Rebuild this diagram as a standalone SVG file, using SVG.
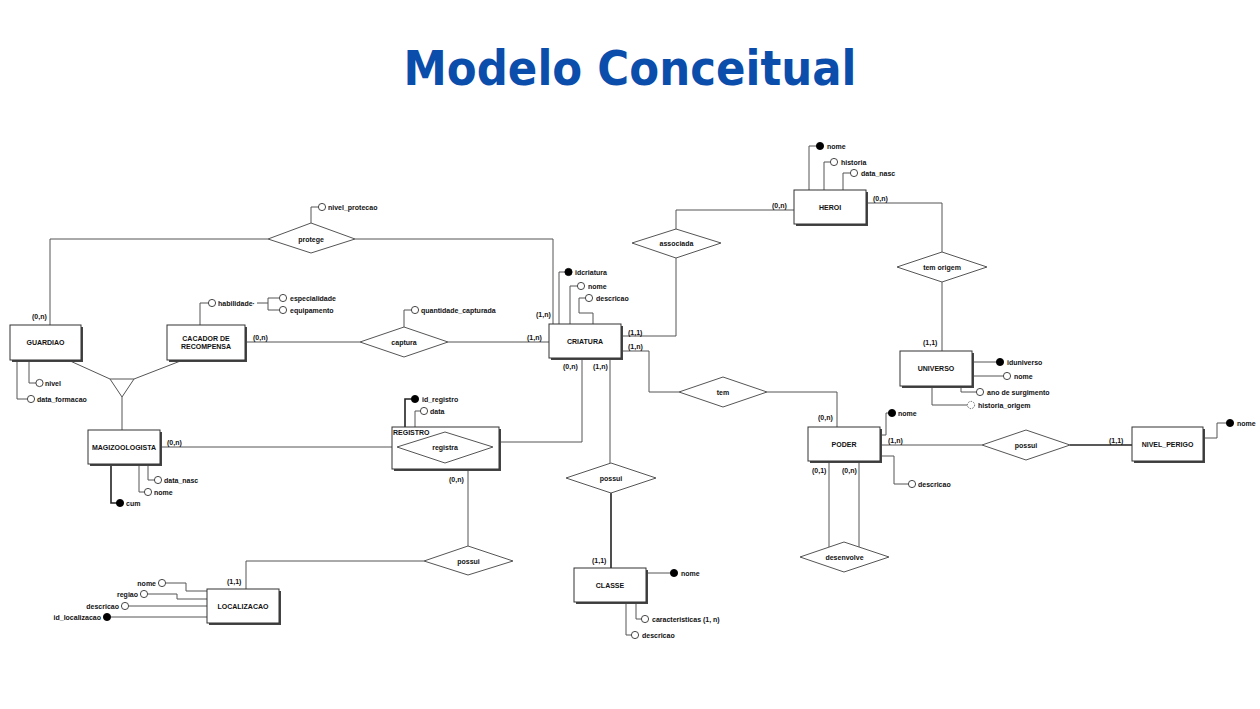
<svg xmlns="http://www.w3.org/2000/svg" width="1260" height="709" viewBox="0 0 1260 709">
<style>
.title{font-family:"DejaVu Sans","Liberation Sans",sans-serif;font-weight:bold;font-size:48px;fill:#0a4dab}
.t{font-family:"Liberation Sans",Arial,sans-serif;font-weight:bold;font-size:7px;fill:#111}
.c{text-anchor:middle}
.r{text-anchor:end}
.ln{fill:none;stroke:#555;stroke-width:1}
.thk{fill:none;stroke:#222;stroke-width:1.6}
.box{fill:#fff;stroke:#333;stroke-width:1}
.sh{fill:#444}
.rel{fill:#fff;stroke:#555;stroke-width:1}
.a{fill:#fff;stroke:#333;stroke-width:0.9}
.k{fill:#000;stroke:#000;stroke-width:0.9}
.d{fill:#fff;stroke:#555;stroke-width:0.9;stroke-dasharray:1.5 1.2}
</style>
<rect width="1260" height="709" fill="#fff"/>
<text class="title" x="630" y="85" text-anchor="middle" textLength="453" lengthAdjust="spacingAndGlyphs">Modelo Conceitual</text>

<g id="connectors">
<path class="ln" d="M50,325 V239 H268"/>
<path class="ln" d="M355,239 H553 V324"/>
<path class="ln" d="M68,360 L110,379"/>
<path class="ln" d="M183,360 L134,379"/>
<path class="ln" d="M122,397 V430"/>
<path class="ln" d="M245,342 H360"/>
<path class="ln" d="M448,342 H549"/>
<path class="ln" d="M621,336 H676 V258"/>
<path class="ln" d="M676,229 V210 H794"/>
<path class="ln" d="M621,351 H649 V392 H679"/>
<path class="ln" d="M767,392 H837 V427"/>
<path class="ln" d="M866,203 H942 V252"/>
<path class="ln" d="M942,282 V351"/>
<path class="ln" d="M880,445 H982"/>
<path class="thk" d="M1070,445 H1132"/>
<path class="ln" d="M829,461 V547"/>
<path class="ln" d="M859,461 V547"/>
<path class="ln" d="M160,447 H397"/>
<path class="ln" d="M477,442 H582 V357"/>
<path class="ln" d="M610,357 V463"/>
<path class="thk" d="M611,493 V568"/>
<path class="ln" d="M468,469 V546"/>
<path class="ln" d="M424,561 H246 V589"/>
<text class="t" x="32" y="318.5">(0,n)</text>
<text class="t" x="536" y="317">(1,n)</text>
<text class="t" x="253" y="339.5">(0,n)</text>
<text class="t" x="527" y="339.5">(1,n)</text>
<text class="t" x="772" y="207.5">(0,n)</text>
<text class="t" x="628" y="334.5">(1,1)</text>
<text class="t" x="628" y="348.5">(1,n)</text>
<text class="t" x="873" y="200.5">(0,n)</text>
<text class="t" x="923" y="344.5">(1,1)</text>
<text class="t" x="818" y="419.5">(0,n)</text>
<text class="t" x="888" y="443">(1,n)</text>
<text class="t" x="1109" y="443">(1,1)</text>
<text class="t" x="812" y="472.5">(0,1)</text>
<text class="t" x="842" y="472.5">(0,n)</text>
<text class="t" x="167" y="445">(0,n)</text>
<text class="t" x="563" y="368.5">(0,n)</text>
<text class="t" x="593" y="368.5">(1,n)</text>
<text class="t" x="449" y="481.5">(0,n)</text>
<text class="t" x="592" y="562.5">(1,1)</text>
<text class="t" x="227" y="583.5">(1,1)</text>
</g>

<g id="guardiao">
<path class="ln" d="M29,360 V383 H36 M17,360 V399 H27"/>
<circle class="a" cx="39.5" cy="383" r="3.6"/>
<circle class="a" cx="31" cy="399" r="3.6"/>
<text class="t" x="45" y="385.5">nivel</text>
<text class="t" x="37" y="401.5">data_formacao</text>
<rect class="sh" x="12" y="327" width="71" height="35"/>
<rect class="box" x="10" y="325" width="71" height="35"/>
<text class="t c" x="45.5" y="345">GUARDIAO</text>
</g>

<g id="cacador">
<path class="ln" d="M200,325 V303 H208.5 M257,303 H268 M268,298 V310 M268,298 H279.5 M268,310 H279.5"/>
<circle class="a" cx="212" cy="303" r="3.6"/>
<circle class="a" cx="283" cy="298" r="3.6"/>
<circle class="a" cx="283" cy="310" r="3.6"/>
<text class="t" x="218" y="305.5">habilidade·</text>
<text class="t" x="290" y="300.5">especialidade</text>
<text class="t" x="290" y="312.5">equipamento</text>
<rect class="sh" x="169" y="327" width="78" height="35"/>
<rect class="box" x="167" y="325" width="78" height="35"/>
<text class="t c" x="206" y="341">CACADOR DE</text>
<text class="t c" x="206" y="349">RECOMPENSA</text>
</g>

<g id="especializacao">
<polygon class="rel" points="110,379 134,379 122,397"/>
</g>

<g id="protege">
<path class="ln" d="M311,223 V207 H318.5"/>
<circle class="a" cx="322" cy="207" r="3.6"/>
<text class="t" x="328" y="209.5">nivel_protecao</text>
<polygon class="rel" points="268,239 311,223 355,239 311,253"/>
<text class="t c" x="311" y="241.5">protege</text>
</g>

<g id="captura">
<path class="ln" d="M404,327 V310 H411.5"/>
<circle class="a" cx="415" cy="310" r="3.6"/>
<text class="t" x="421" y="312.5">quantidade_capturada</text>
<polygon class="rel" points="360,342 404,327 448,342 404,357"/>
<text class="t c" x="404" y="344.5">captura</text>
</g>

<g id="criatura">
<path class="ln" d="M559,324 V272 H565 M570,324 V286 H577.5 M593,324 V313 H579 V298 H585.5"/>
<circle class="k" cx="568.5" cy="272" r="3.6"/>
<circle class="a" cx="581" cy="286" r="3.6"/>
<circle class="a" cx="589" cy="298" r="3.6"/>
<text class="t" x="575" y="274.5">idcriatura</text>
<text class="t" x="588" y="288.5">nome</text>
<text class="t" x="596" y="300.5">descricao</text>
<rect class="sh" x="551" y="326" width="72" height="34"/>
<rect class="box" x="549" y="324" width="72" height="34"/>
<text class="t c" x="585" y="343.5">CRIATURA</text>
</g>

<g id="associada">
<polygon class="rel" points="632,243 676,229 721,243 676,258"/>
<text class="t c" x="676.5" y="245.5">associada</text>
</g>

<g id="heroi">
<path class="ln" d="M809,190 V146 H816.5 M824,190 V162 H830.5 M843,190 V173 H850.5"/>
<circle class="k" cx="820" cy="146" r="3.6"/>
<circle class="a" cx="834" cy="162" r="3.6"/>
<circle class="a" cx="854" cy="173" r="3.6"/>
<text class="t" x="827" y="148.5">nome</text>
<text class="t" x="841" y="164.5">historia</text>
<text class="t" x="861" y="175.5">data_nasc</text>
<rect class="sh" x="796" y="192" width="72" height="34"/>
<rect class="box" x="794" y="190" width="72" height="34"/>
<text class="t c" x="830" y="209.5">HEROI</text>
</g>

<g id="temorigem">
<polygon class="rel" points="897,267 942,252 987,267 942,282"/>
<text class="t c" x="942" y="269.5">tem origem</text>
</g>

<g id="universo">
<path class="ln" d="M972,362 H996.5 M972,376 H1003.5 M961,386 V392 H976.5 M932,386 V405 H967.5"/>
<circle class="k" cx="1000" cy="362" r="3.6"/>
<circle class="a" cx="1007" cy="376" r="3.6"/>
<circle class="a" cx="980" cy="392" r="3.6"/>
<circle class="d" cx="971" cy="405" r="3.6"/>
<text class="t" x="1007" y="364.5">iduniverso</text>
<text class="t" x="1014" y="378.5">nome</text>
<text class="t" x="987" y="394.5">ano de surgimento</text>
<text class="t" x="978" y="407.5">historia_origem</text>
<rect class="sh" x="902" y="353" width="72" height="35"/>
<rect class="box" x="900" y="351" width="72" height="35"/>
<text class="t c" x="936" y="370.5">UNIVERSO</text>
</g>

<g id="tem">
<polygon class="rel" points="679,392 723,377 767,392 723,407"/>
<text class="t c" x="723" y="394.5">tem</text>
</g>

<g id="poder">
<path class="ln" d="M880,435 H886 V413 H888.5 M880,456 H894 V484 H908.5"/>
<circle class="k" cx="892" cy="413" r="3.6"/>
<circle class="a" cx="912" cy="484" r="3.6"/>
<text class="t" x="898" y="415.5">nome</text>
<text class="t" x="918" y="486.5">descricao</text>
<rect class="sh" x="810" y="429" width="72" height="34"/>
<rect class="box" x="808" y="427" width="72" height="34"/>
<text class="t c" x="844" y="446.5">PODER</text>
</g>

<g id="possui_nivel">
<polygon class="rel" points="982,445 1026,430 1070,445 1026,460"/>
<text class="t c" x="1026" y="447.5">possui</text>
</g>

<g id="nivel_perigo">
<path class="ln" d="M1203,438 H1217 V423 H1226.5"/>
<circle class="k" cx="1230" cy="423" r="3.6"/>
<text class="t" x="1237" y="425.5">nome</text>
<rect class="sh" x="1134" y="429" width="71" height="34"/>
<rect class="box" x="1132" y="427" width="71" height="34"/>
<text class="t c" x="1167.5" y="446.5">NIVEL_PERIGO</text>
</g>

<g id="desenvolve">
<polygon class="rel" points="800,557 844,542 889,557 844,572"/>
<text class="t c" x="844.5" y="559.5">desenvolve</text>
</g>

<g id="magizoologista">
<path class="ln" d="M148,464 V480 H154.5 M139,464 V492 H144.5"/>
<path class="thk" d="M111,464 V503 H117"/>
<circle class="a" cx="158" cy="480" r="3.6"/>
<circle class="a" cx="148" cy="492" r="3.6"/>
<circle class="k" cx="120" cy="503" r="3.6"/>
<text class="t" x="164" y="482.5">data_nasc</text>
<text class="t" x="154" y="494.5">nome</text>
<text class="t" x="126" y="505.5">cum</text>
<rect class="sh" x="90" y="432" width="72" height="34"/>
<rect class="box" x="88" y="430" width="72" height="34"/>
<text class="t c" x="124" y="449.5">MAGIZOOLOGISTA</text>
</g>

<g id="registro">
<path class="thk" d="M405,427 V399 H411.5"/>
<path class="ln" d="M415,427 V411 H420.5"/>
<circle class="k" cx="415" cy="399" r="3.6"/>
<circle class="a" cx="424" cy="411" r="3.6"/>
<text class="t" x="422" y="401.5">id_registro</text>
<text class="t" x="430" y="413.5">data</text>
<rect class="sh" x="394" y="429" width="107" height="42"/>
<rect class="box" x="392" y="427" width="107" height="42"/>
<text class="t" x="393" y="435">REGISTRO</text>
<polygon class="rel" points="397,447 445,432 493,447 445,463"/>
<text class="t c" x="445" y="449.5">registra</text>
</g>

<g id="possui_localizacao">
<polygon class="rel" points="424,561 468,546 513,561 468,575"/>
<text class="t c" x="468.5" y="563.5">possui</text>
</g>

<g id="localizacao">
<path class="ln" d="M166,583 H186 V591 H207 M148,594 H177 V599 H207 M129,606 H207"/>
<path class="ln" d="M111,617 H207"/>
<circle class="a" cx="162" cy="583" r="3.6"/>
<circle class="a" cx="144" cy="594" r="3.6"/>
<circle class="a" cx="125" cy="606" r="3.6"/>
<circle class="k" cx="107" cy="617" r="3.6"/>
<text class="t r" x="156" y="585.5">nome</text>
<text class="t r" x="138" y="596.5">regiao</text>
<text class="t r" x="119" y="608.5">descricao</text>
<text class="t r" x="101" y="619.5">id_localizacao</text>
<rect class="sh" x="209" y="591" width="72" height="34"/>
<rect class="box" x="207" y="589" width="72" height="34"/>
<text class="t c" x="243" y="608.5">LOCALIZACAO</text>
</g>

<g id="possui_classe">
<polygon class="rel" points="566,478 611,463 656,478 611,493"/>
<text class="t c" x="611" y="480.5">possui</text>
</g>

<g id="classe">
<path class="ln" d="M646,573 H670.5 M636,602 V619 H641.5 M626,602 V635 H631.5"/>
<circle class="k" cx="674" cy="573" r="3.6"/>
<circle class="a" cx="645" cy="619" r="3.6"/>
<circle class="a" cx="635" cy="635" r="3.6"/>
<text class="t" x="681" y="575.5">nome</text>
<text class="t" x="652" y="621.5">caracteristicas (1, n)</text>
<text class="t" x="642" y="637.5">descricao</text>
<rect class="sh" x="576" y="570" width="72" height="34"/>
<rect class="box" x="574" y="568" width="72" height="34"/>
<text class="t c" x="610" y="587.5">CLASSE</text>
</g>
</svg>
